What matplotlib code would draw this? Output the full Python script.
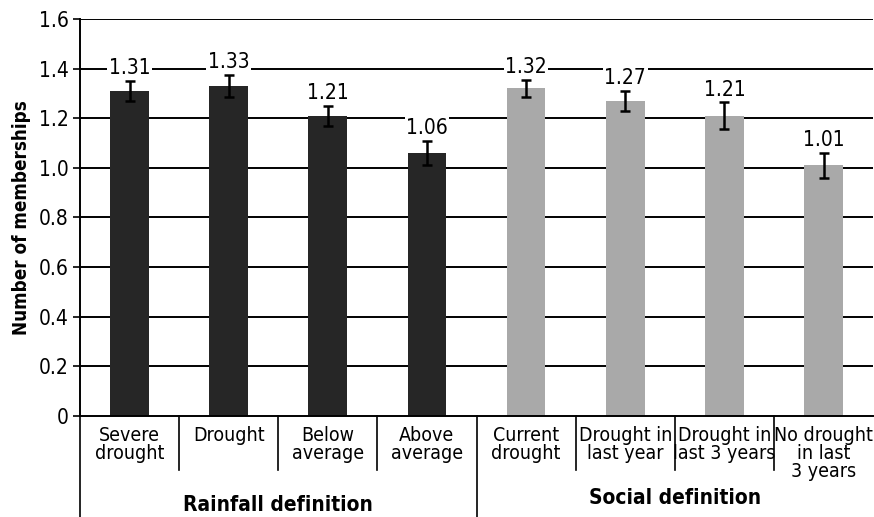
import matplotlib
matplotlib.use("Agg")
import matplotlib.pyplot as plt
from matplotlib.lines import Line2D
import matplotlib.font_manager as fm

def pick(bold):
    best = None
    for f in fm.fontManager.ttflist:
        fn = f.fname.lower()
        if ("narrow" in fn or "condensed" in fn) and f.style == "normal":
            w = f.weight if isinstance(f.weight, int) else (700 if "bold" in str(f.weight) else 400)
            if bold and w >= 600:
                if best is None or "liberation" in fn:
                    best = f.fname
            if not bold and w < 600 and "light" not in fn:
                if best is None or "liberation" in fn:
                    best = f.fname
    return best

reg = pick(False)
bld = pick(True)
fp_reg = fm.FontProperties(fname=reg) if reg else fm.FontProperties(family="DejaVu Sans")
fp_bld = fm.FontProperties(fname=bld) if bld else fm.FontProperties(family="DejaVu Sans", weight="bold")
condensed = reg is not None

categories = ["Severe\ndrought", "Drought", "Below\naverage", "Above\naverage",
              "Current\ndrought", "Drought in\nlast year", "Drought in\nlast 3 years",
              "No drought\nin last\n3 years"]
values = [1.31, 1.33, 1.21, 1.06, 1.32, 1.27, 1.21, 1.01]
errors = [0.04, 0.045, 0.04, 0.05, 0.035, 0.04, 0.055, 0.05]
groups = ["Rainfall definition", "Social definition"]
group_sizes = [4, 4]
yticks = [0, 0.2, 0.4, 0.6, 0.8, 1.0, 1.2, 1.4, 1.6]
ytick_labels = ["0", "0.2", "0.4", "0.6", "0.8", "1.0", "1.2", "1.4", "1.6"]

colors = ["#262626"] * 4 + ["#a9a9a9"] * 4

fs = 14 if condensed else 11.5

def F(size, bold=False):
    p = (fp_bld if bold else fp_reg).copy()
    p.set_size(size)
    return p

fig = plt.figure(figsize=(8.74, 5.17), dpi=100)
ax = fig.add_axes([0.0915, 0.1954, 0.9075, 0.768])

x = list(range(len(values)))
for yt in yticks[1:]:
    ax.axhline(yt, color="black", lw=1.4, zorder=0)
ax.bar(x, values, width=0.39, color=colors, zorder=2)
ax.errorbar(x, values, yerr=errors, fmt="none", ecolor="black", elinewidth=1.8,
            capsize=3.5, capthick=1.8, zorder=3)
for xi, v, e in zip(x, values, errors):
    ax.text(xi, v + e + 0.01, f"{v:.2f}", ha="center", va="bottom", fontproperties=F(fs + 1),
            bbox=dict(facecolor="white", edgecolor="none", pad=1.0), zorder=4)

ax.set_xlim(-0.5, len(values) - 0.5)
ax.set_ylim(0, 1.6)
ax.set_yticks(yticks)
ax.set_yticklabels(ytick_labels)
for lab in ax.get_yticklabels():
    lab.set_fontproperties(F(fs + 1))
ax.tick_params(axis="y", length=5, width=1.2, pad=3)
ax.set_xticks([])
for s in ["top", "right"]:
    ax.spines[s].set_visible(False)
ax.spines["left"].set_linewidth(1.4)
ax.spines["bottom"].set_linewidth(1.4)
ax.set_ylabel("Number of memberships", fontproperties=F(13.5 if condensed else 11.5, True), labelpad=6)

for xi, c in zip(x, categories):
    ax.text(xi, -0.025, c, transform=ax.get_xaxis_transform(), ha="center", va="top",
            fontproperties=F(fs), linespacing=0.95)

starts = [0]
for g in group_sizes:
    starts.append(starts[-1] + g)
for b in range(len(values)):
    xb = b - 0.5
    y0 = -0.26 if b in starts[:-1] else -0.136
    ax.add_line(Line2D([xb, xb], [0, y0], transform=ax.get_xaxis_transform(),
                       color="black", lw=1.2, clip_on=False))

gy = [-0.225, -0.207]
for gi, g in enumerate(groups):
    center = (starts[gi] + starts[gi + 1] - 1) / 2
    ax.text(center, gy[gi], g, transform=ax.get_xaxis_transform(), ha="center",
            va="center", fontproperties=F(fs + 1, True))

fig.savefig("out.png", dpi=100)
